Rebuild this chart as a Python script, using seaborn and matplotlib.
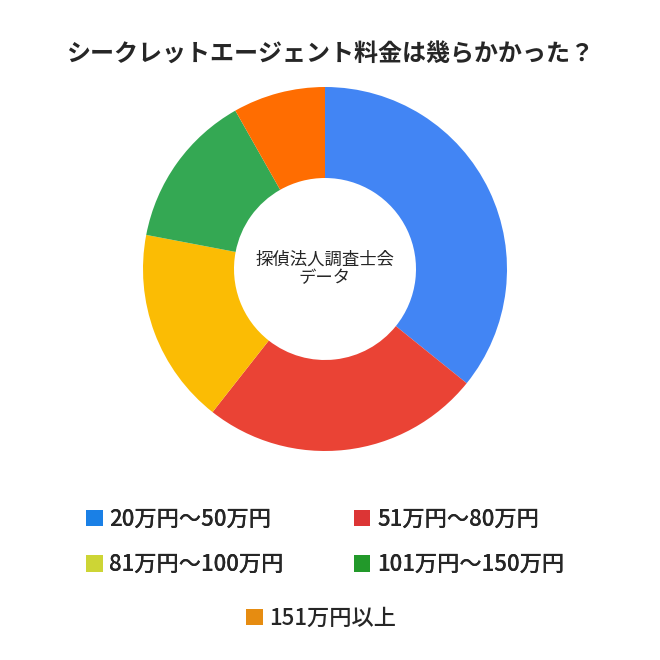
import matplotlib
matplotlib.use("Agg")
import matplotlib.pyplot as plt
from matplotlib.patches import Patch
import seaborn as sns

categories = ["20万円～50万円", "51万円～80万円", "81万円～100万円", "101万円～150万円", "151万円以上"]
values = [35.8, 24.8, 17.4, 13.8, 8.2]
pie_colors = ["#4285F4", "#EA4335", "#FBBC04", "#34A853", "#FF6D01"]
legend_colors = ["#1A80E6", "#DC3535", "#CDD535", "#22992A", "#E68C11"]
title = "シークレットエージェント料金は幾らかかった？"
center_text = "探偵法人調査士会\nデータ"

sns.set_theme(style="white")
plt.rcParams["font.family"] = ["Noto Sans CJK JP", "DejaVu Sans"]

fig = plt.figure(figsize=(6.6, 6.6), dpi=100)
ax = fig.add_axes([(325 - 182) / 660, 1 - (269 + 182) / 660, 364 / 660, 364 / 660])
ax.pie(values, colors=sns.color_palette(pie_colors), startangle=90, counterclock=False,
       wedgeprops=dict(width=0.5, edgecolor="none", linewidth=0))
ax.set_xlim(-1, 1)
ax.set_ylim(-1, 1)
ax.set_aspect("equal")
ax.text(0, 0, center_text, ha="center", va="center", fontsize=12.5, linespacing=1.0)

fig.text(0.5, 1 - 55 / 660, title, ha="center", va="center", fontsize=17.3, fontweight="bold")

handles = [Patch(facecolor=c, edgecolor="none") for c in legend_colors]
order = [0, 2, 1, 3]
leg1 = fig.legend([handles[i] for i in order], [categories[i] for i in order],
                  ncol=2, loc="upper left", bbox_to_anchor=(86 / 660, 1 - 508 / 660),
                  frameon=False, handlelength=0.75, handleheight=0.75,
                  handletextpad=0.3, labelspacing=1.0, columnspacing=3.15,
                  borderaxespad=0, borderpad=0, prop=dict(size=16, weight="medium"))
leg2 = fig.legend([handles[4]], [categories[4]], loc="upper left",
                  bbox_to_anchor=(246 / 660, 1 - 607 / 660), frameon=False,
                  handlelength=0.75, handleheight=0.75, handletextpad=0.3,
                  borderaxespad=0, borderpad=0, prop=dict(size=16, weight="medium"))
fig.add_artist(leg1)

fig.savefig("out.png", dpi=100, facecolor="white")
